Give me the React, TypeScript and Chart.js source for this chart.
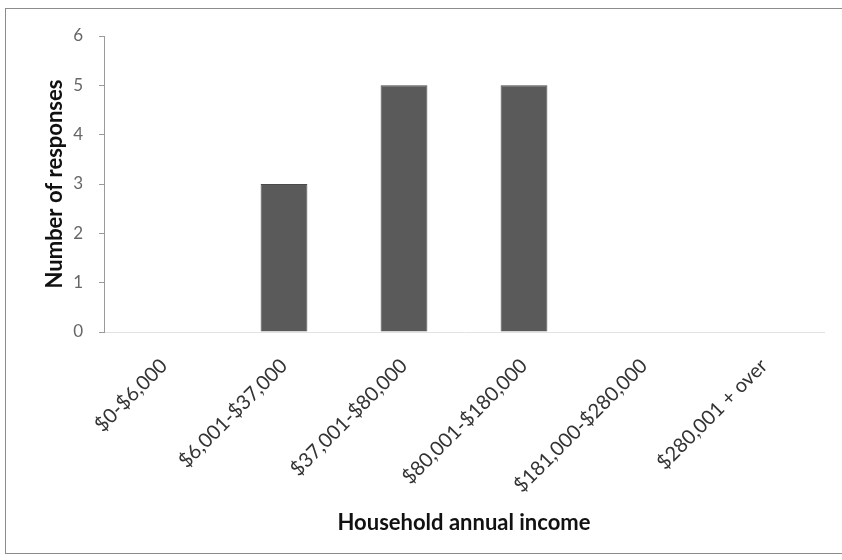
import React, { useEffect, useRef } from "react";
import { Chart, registerables } from "chart.js";

Chart.register(...registerables);

const categories = [
  "$0-$6,000",
  "$6,001-$37,000",
  "$37,001-$80,000",
  "$80,001-$180,000",
  "$181,000-$280,000",
  "$280,001 + over",
];
const responses = [0, 3, 5, 5, 0, 0];
const yTicks = [0, 1, 2, 3, 4, 5, 6];

const FONT = "Lato, 'Open Sans', sans-serif";

export default function App() {
  const ref = useRef<HTMLCanvasElement | null>(null);

  useEffect(() => {
    if (!ref.current) return;
    const chart = new Chart(ref.current, {
      type: "bar",
      data: {
        labels: categories,
        datasets: [
          {
            data: responses,
            backgroundColor: "#5a5a5a",
            borderColor: "#4a4a4a",
            borderWidth: 1,
            barPercentage: 0.39,
            categoryPercentage: 1,
          },
        ],
      },
      options: {
        animation: false,
        responsive: false,
        maintainAspectRatio: false,
        layout: { padding: { top: 36, right: 18, left: 0, bottom: 0 } },
        plugins: { legend: { display: false }, tooltip: { enabled: false } },
        scales: {
          x: {
            grid: { display: false, drawTicks: false },
            border: { display: true, color: "#e2e2e2", width: 1 },
            ticks: {
              color: "#333",
              font: { family: FONT, size: 20 },
              maxRotation: 45,
              minRotation: 45,
              padding: 22,
              autoSkip: false,
            },
            title: {
              display: true,
              text: "Household annual income",
              color: "#111",
              font: { family: FONT, size: 22, weight: "bold" },
              padding: { top: 0, bottom: 24 },
            },
            afterFit: (s: any) => {
              s.height = 228;
            },
          },
          y: {
            min: 0,
            max: 6,
            afterBuildTicks: (s: any) => {
              s.ticks = yTicks.map((v) => ({ value: v }));
            },
            grid: {
              display: true,
              drawOnChartArea: false,
              drawTicks: true,
              tickLength: 5,
              color: "#9a9a9a",
            },
            border: { display: true, color: "#9a9a9a", width: 1 },
            ticks: {
              color: "#666",
              font: { family: FONT, size: 17 },
              padding: 16,
            },
            title: {
              display: true,
              text: "Number of responses",
              color: "#111",
              font: { family: FONT, size: 22, weight: "bold" },
              padding: { top: 42, bottom: 0 },
            },
            afterFit: (s: any) => {
              s.width = 104;
            },
          },
        },
      },
    });
    return () => chart.destroy();
  }, []);

  return (
    <div
      style={{
        position: "fixed",
        left: 0,
        top: 0,
        width: 842,
        height: 560,
        background: "#fff",
      }}
    >
      <div
        style={{
          position: "absolute",
          left: 5,
          top: 8,
          width: 845,
          height: 546,
          border: "1px solid #8c8c8c",
          boxSizing: "border-box",
        }}
      />
      <canvas
        ref={ref}
        width={842}
        height={560}
        style={{ position: "absolute", left: 0, top: 0 }}
      />
    </div>
  );
}
